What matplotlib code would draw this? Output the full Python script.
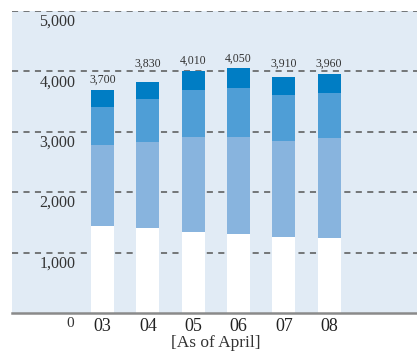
import numpy as np
import matplotlib.pyplot as plt

years = ['03', '04', '05', '06', '07', '08']
totals = [3700, 3830, 4010, 4050, 3910, 3960]
seg_white = [1440, 1410, 1340, 1310, 1260, 1240]
seg_light = [1340, 1420, 1570, 1600, 1590, 1660]
seg_mid = [630, 710, 780, 810, 760, 740]
seg_dark = [290, 290, 320, 330, 300, 320]
yticks = [1000, 2000, 3000, 4000, 5000]

plt.rcParams['font.family'] = ['Liberation Serif', 'DejaVu Serif']

fig = plt.figure(figsize=(4.17, 3.55), dpi=100)
ax = fig.add_axes([12/417, 42/355, 405/417, 302/355])
ax.set_facecolor('#e1ebf5')

x = np.arange(len(years))
w = 0.51
segs = [seg_white, seg_light, seg_mid, seg_dark]
cols = ['white', '#88b4de', '#4f9ed6', '#007dc4']
bottom = np.zeros(len(years))
for s, c in zip(segs, cols):
    ax.bar(x, s, w, bottom=bottom, color=c, zorder=3, linewidth=0)
    bottom += np.array(s)

for yv in yticks:
    ax.axhline(yv, color='#555555', lw=1.1, ls=(0, (4, 3.5)), zorder=2)
    ax.text(-0.6, yv - 180, f'{yv:,}', ha='right', va='center',
            fontsize=11.5, color='#333333')
ax.axhline(0, color='#8a8a8a', lw=1.8, zorder=4, clip_on=False)

# totals sit above the 4,000 line unless the bar is well below it
for xi, t in zip(x, totals):
    ly = t + 160 if t < 3750 else max(t + 160, 4130)
    ax.text(xi, ly, f'{t:,}', ha='center', va='center',
            fontsize=8.5, color='#333333')

ax.set_xlim(-2.0, 6.94)
ax.set_ylim(0, 5000)
ax.set_xticks([])
ax.set_yticks([])
for sp in ax.spines.values():
    sp.set_visible(False)

ax.text(-0.72, -170, '0', ha='center', va='center', fontsize=11, color='#333333')
for xi, lbl in zip(x, years):
    ax.text(xi, -220, lbl, ha='center', va='center', fontsize=13, color='#222222')
ax.text(2.5, -500, '[As of April]', ha='center', va='center',
        fontsize=12.5, color='#333333')

fig.savefig('out.png', dpi=100)
